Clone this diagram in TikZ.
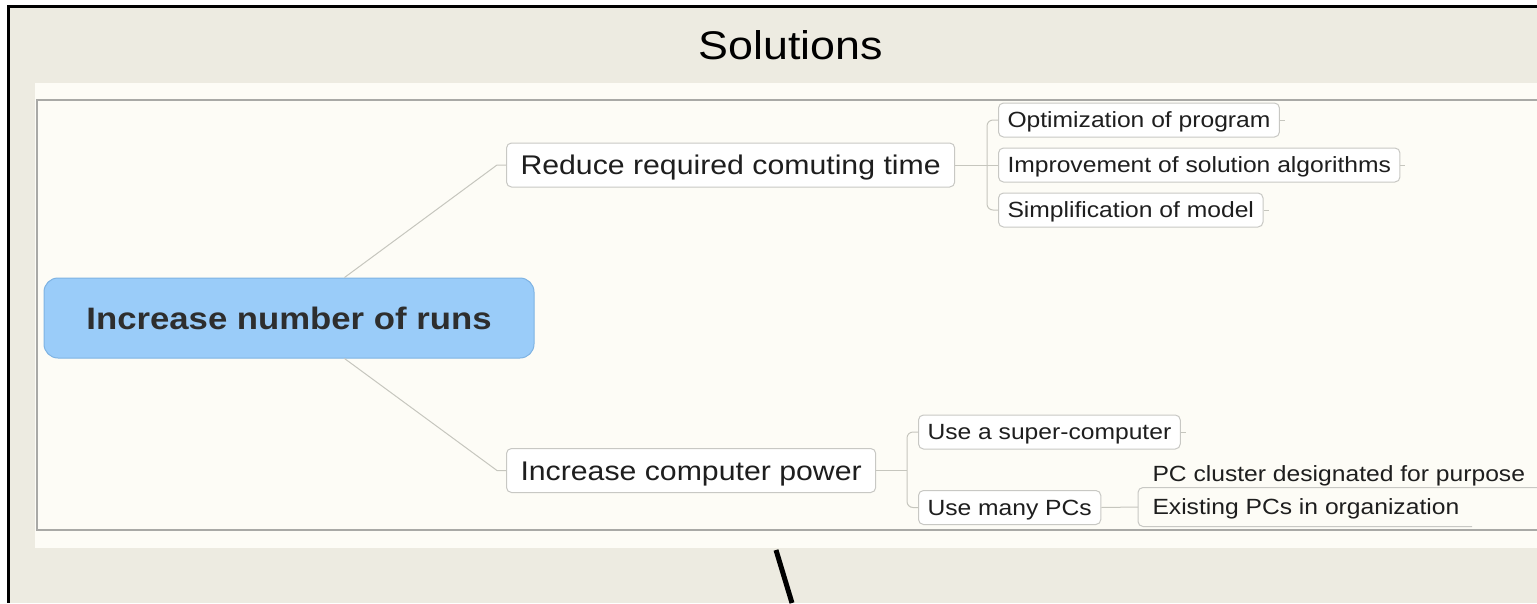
\documentclass[tikz,border=0pt]{standalone}
\usepackage{fontspec}
\setmainfont[FakeStretch=1.12]{Liberation Sans}
\usetikzlibrary{positioning,calc}
\definecolor{slidebeige}{HTML}{EDEBE1}
\definecolor{panelcream}{HTML}{FDFCF6}
\definecolor{panelrule}{HTML}{A9A9A6}
\definecolor{linkgray}{HTML}{C6C6BE}
\definecolor{boxgray}{HTML}{C8C8C4}
\definecolor{topicblue}{HTML}{9ACCF9}
\definecolor{topicedge}{HTML}{7EB3E3}
\definecolor{topicink}{HTML}{2E2E2E}
\definecolor{inkdark}{HTML}{1E1E1E}
\tikzset{
  topic/.style={rectangle, rounded corners=14, draw=topicedge, fill=topicblue, line width=1pt, minimum width=490, minimum height=80, text height=22.2pt, text depth=0pt, font=\fontsize{31}{36}\selectfont\bfseries, text=topicink},
  branch/.style={rectangle, rounded corners=5, draw=boxgray, fill=white, line width=1pt, anchor=west, inner xsep=14, inner ysep=0, minimum height=44, text height=19.3pt, text depth=0pt, font=\fontsize{27}{32}\selectfont, text=inkdark},
  leaf/.style={branch, inner xsep=9, minimum height=34, text height=15.8pt, font=\fontsize{22}{26}\selectfont},
  link/.style={draw=linkgray, line width=1pt},
  fork/.style={link, rounded corners=6},
  stub/.style={link, line width=0.8pt}
}

\begin{document}
\begin{tikzpicture}[x=1pt, y=-1pt]
  \useasboundingbox (0,0) rectangle (1537,603);
  % slide and panel
  \fill[slidebeige] (8,6) rectangle (1537,603);
  \draw[line width=3pt] (1537,6.5) -- (8.5,6.5) -- (8.5,603);
  \fill[panelcream] (35,83) rectangle (1537,548);
  \draw[draw=panelrule, line width=1.2pt] (1537,100) -- (37,100) -- (37,530) -- (1537,530);

  \node[font=\fontsize{40}{48}\selectfont, anchor=base] (title) at (791,59) {Solutions};

  \node[topic] (runs) at (289,318) {Increase number of runs};
  \node[branch] (reduce) at (506,165) {Reduce required comuting time};
  \node[branch] (power) at (506,470.5) {Increase computer power};

  \node[leaf] (optim) at (998,120) {Optimization of program};
  \node[leaf] (improve) at (998,165) {Improvement of solution algorithms};
  \node[leaf] (simplify) at (998,210) {Simplification of model};

  \node[leaf] (super) at (918,432) {Use a super-computer};
  \node[leaf] (many) at (918,507.5) {Use many PCs};
  \node[leaf, draw=none, fill=none, inner xsep=14, minimum height=38] (exist) at (1138,507) {Existing PCs in organization};
  \node[leaf, draw=none, fill=none, inner xsep=14] (cluster) at (1138,474) {PC cluster designated for purpose};

  \draw[link] ([xshift=301]runs.north west) -- ([xshift=-9]reduce.west) -- (reduce.west);
  \draw[link] ([xshift=301]runs.south west) -- ([xshift=-9]power.west) -- (power.west);

  \coordinate (reducefork) at (987,165);
  \draw[link] (reduce.east) -- (improve.west);
  \draw[fork] (optim.west) -| (reducefork) |- (simplify.west);

  \coordinate (powerfork) at (907,470.5);
  \draw[link] (power.east) -- (powerfork);
  \draw[fork] (super.west) -| (powerfork) |- (many.west);
  \draw[link] (many.east) -- (exist.west);

  \draw[draw=boxgray, line width=1pt, rounded corners=5] ($(exist.north west)+(420,0)$) -- (exist.north west) -- (exist.south west) -- ($(exist.south west)+(334,0)$);

  \draw[stub] (optim.east) -- ++(5,0);
  \draw[stub] (improve.east) -- ++(5,0);
  \draw[stub] (simplify.east) -- ++(5,0);
  \draw[stub] (super.east) -- ++(5,0);

  \draw[line width=5pt] (776,550) -- (792,603);
\end{tikzpicture}
\end{document}
